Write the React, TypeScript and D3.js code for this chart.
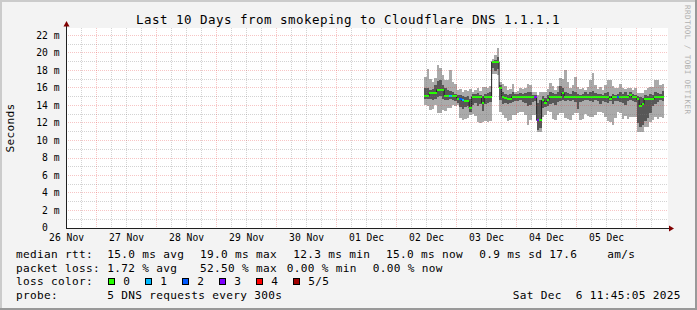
import React from "react";
import * as d3 from "d3";

// ---------- data ----------
const graphStart = Date.UTC(2025, 10, 26, 11, 45, 5);
const graphEnd = Date.UTC(2025, 11, 6, 11, 45, 5);
const dataStart = Date.UTC(2025, 11, 2, 11, 0, 0);
const stepMs = 3600 * 1000;

const yTickValues = [0, 2, 4, 6, 8, 10, 12, 14, 16, 18, 20, 22];
const yTickLabels = ["0  ", "2 m", "4 m", "6 m", "8 m", "10 m", "12 m", "14 m", "16 m", "18 m", "20 m", "22 m"];
const dayLabels = ["26 Nov", "27 Nov", "28 Nov", "29 Nov", "30 Nov", "01 Dec", "02 Dec", "03 Dec", "04 Dec", "05 Dec"];

// hourly smoke values (ms): min, 2nd, median, 4th, max of the sorted pings
const pingMin = [
  14.1, 14.0, 13.5, 13.6, 14.1, 13.1, 13.1, 13.5, 13.4, 13.7, 13.7, 14.1, 14.0, 14.1, 12.6, 12.4,
  12.5, 12.6, 12.9, 13.0, 12.8, 12.1, 12.0, 12.1, 12.2, 12.1, 12.2, 17.6, 17.6, 17.5, 13.3, 12.9,
  12.6, 12.2, 12.3, 12.9, 12.9, 13.1, 13.3, 13.3, 12.9, 11.8, 12.3, 12.9, 12.9, 11.0, 11.0, 12.7,
  12.9, 13.4, 13.3, 12.5, 12.4, 12.9, 13.1, 13.2, 12.6, 12.5, 12.4, 12.9, 13.1, 13.2, 12.3, 12.5,
  13.0, 12.8, 12.7, 12.7, 12.9, 13.3, 13.3, 13.2, 12.7, 12.2, 12.1, 11.8, 12.6, 13.3, 13.1, 12.5,
  12.8, 12.5, 12.7, 12.7, 12.7, 11.0, 11.0, 11.0, 11.6, 11.6, 12.1, 12.3, 12.7, 12.5, 12.7, 12.6,
];
const pingLow = [
  14.8, 14.8, 14.7, 14.6, 14.8, 15.0, 15.1, 14.7, 14.6, 14.6, 14.7, 14.6, 14.5, 14.3, 13.8, 13.6,
  13.8, 13.9, 13.3, 14.1, 14.3, 13.9, 14.2, 13.4, 14.2, 14.3, 14.4, 18.3, 18.0, 18.2, 14.6, 14.2,
  14.3, 14.2, 14.3, 14.4, 14.5, 14.5, 14.6, 14.4, 14.3, 14.0, 14.1, 14.4, 14.5, 11.2, 11.4, 13.7,
  13.8, 14.0, 14.2, 14.3, 14.1, 14.4, 14.5, 14.6, 14.5, 14.6, 14.5, 14.6, 14.4, 13.6, 14.4, 14.5,
  14.6, 14.6, 14.5, 14.4, 14.6, 14.5, 14.2, 14.5, 14.4, 14.3, 14.5, 14.2, 14.5, 14.5, 14.4, 14.3,
  14.1, 14.5, 14.6, 14.5, 14.4, 12.0, 11.6, 11.8, 12.2, 12.6, 13.2, 13.9, 14.2, 14.4, 14.6, 14.5,
];
const median = [
  15.1, 15.1, 15.4, 15.4, 15.4, 15.8, 15.8, 15.8, 15.1, 15.1, 15.1, 15.1, 15.1, 14.8, 14.7, 14.6,
  14.5, 14.5, 13.7, 15.0, 15.0, 15.0, 15.0, 14.3, 15.0, 15.0, 15.0, 19.0, 19.0, 19.0, 16.0, 15.0,
  14.9, 14.8, 14.8, 15.0, 15.0, 15.0, 15.0, 15.0, 15.0, 15.0, 15.0, 15.0, 15.0, 12.3, 12.3, 14.6,
  14.3, 14.6, 15.0, 15.0, 15.0, 15.0, 15.0, 15.4, 15.0, 15.0, 15.0, 15.0, 15.0, 15.0, 15.0, 15.0,
  15.0, 15.0, 15.0, 15.0, 15.0, 15.0, 15.0, 15.0, 15.0, 15.0, 14.7, 15.0, 15.0, 15.0, 15.0, 15.0,
  15.0, 15.0, 15.2, 15.0, 15.0, 14.7, 14.0, 14.2, 14.8, 14.8, 14.7, 14.7, 15.0, 15.0, 15.0, 15.0,
];
const pingHigh = [
  16.0, 16.0, 15.8, 15.9, 16.3, 16.8, 16.9, 16.3, 16.0, 15.8, 15.7, 15.5, 15.3, 15.2, 15.2, 15.1,
  15.0, 15.1, 14.8, 15.3, 15.3, 15.4, 15.2, 15.1, 15.3, 15.4, 15.5, 19.1, 19.2, 19.5, 16.4, 15.6,
  15.3, 15.2, 15.3, 15.6, 15.3, 15.3, 15.4, 15.3, 15.4, 15.6, 15.5, 15.2, 15.2, 14.3, 14.6, 15.1,
  14.9, 15.2, 15.6, 15.4, 15.3, 15.6, 16.2, 16.0, 15.6, 15.4, 15.3, 15.7, 15.5, 15.3, 15.2, 15.3,
  15.5, 15.3, 15.6, 15.7, 15.4, 15.3, 15.3, 15.2, 15.4, 15.5, 15.1, 15.3, 15.2, 15.3, 15.5, 15.3,
  15.6, 15.2, 15.6, 15.3, 15.2, 15.1, 15.0, 14.9, 15.2, 15.1, 15.3, 15.2, 15.6, 15.4, 15.3, 15.7,
];
const pingMax = [
  17.3, 18.2, 17.0, 16.7, 17.1, 18.6, 18.3, 17.5, 16.9, 16.9, 18.1, 16.7, 16.5, 15.8, 15.9, 15.6,
  15.8, 15.7, 15.9, 15.6, 15.8, 16.0, 15.7, 16.1, 16.1, 16.0, 16.2, 19.3, 19.8, 20.6, 16.7, 16.5,
  16.2, 15.8, 15.9, 16.5, 15.6, 15.7, 16.0, 15.9, 16.0, 16.5, 16.4, 15.6, 15.6, 15.2, 15.5, 15.6,
  15.6, 15.9, 16.6, 16.2, 15.8, 16.2, 17.1, 17.0, 18.1, 16.7, 16.0, 16.3, 17.3, 16.1, 15.9, 16.0,
  15.8, 16.1, 16.9, 17.7, 16.3, 15.9, 16.1, 15.8, 16.4, 16.9, 16.9, 16.2, 16.0, 16.0, 16.5, 16.0,
  15.9, 16.0, 16.0, 15.8, 16.0, 15.4, 15.4, 15.4, 15.8, 16.0, 16.1, 16.1, 16.9, 16.9, 16.4, 16.5,
];
// hourly packet loss (%)
const lossPct = [
  0, 0, 0, 0, 0, 0, 0, 0, 0, 0, 20, 0, 0, 0, 40, 20,
  0, 0, 0, 0, 0, 0, 0, 0, 0, 0, 0, 0, 0, 0, 0, 0,
  0, 0, 0, 0, 0, 0, 0, 0, 0, 0, 0, 0, 52.5, 52.5, 0, 0,
  0, 0, 0, 0, 0, 0, 0, 0, 0, 0, 0, 0, 0, 0, 0, 0,
  0, 0, 0, 0, 0, 0, 0, 0, 0, 0, 0, 0, 0, 40, 0, 0,
  0, 0, 0, 0, 0, 0, 0, 0, 0, 0, 0, 0, 0, 0, 0, 0,
];

const lossColors = ["#26ff00", "#00b8ff", "#0059ff", "#7e00ff", "#ff0000", "#a10000"];
const lossLabels = ["0", "1", "2", "3", "4", "5/5"];

const titleText = "Last 10 Days from smokeping to Cloudflare DNS 1.1.1.1";
const rttStats = ["median rtt:", "15.0 ms avg", "19.0 ms max", "12.3 ms min", "15.0 ms now", "0.9 ms sd", "17.6", "am/s"];
const lossStats = ["packet loss:", "1.72 % avg", "52.50 % max", "0.00 % min", "0.00 % now"];
const probeTexts = ["probe:", "5 DNS requests every 300s", "Sat Dec  6 11:45:05 2025"];

// ---------- layout ----------
const W = 697;
const H = 310;
const X0 = 66;
const X1 = 666;
const Y0 = 228;
const Y1 = 28;
const PX_PER_MS = 8.75;
const rttX = [16, 107.3, 200, 293.3, 386, 479.3, 549.3, 607.3];
const lossX = [16, 107.3, 200, 286.7, 372.7];
const probeX = [16, 107.3, 512.7];
const MONO = "'DejaVu Sans Mono', monospace";

export default function App() {
  const x = d3.scaleUtc().domain([new Date(graphStart), new Date(graphEnd)]).range([X0, X1]);
  const y = d3.scaleLinear().domain([0, (Y0 - Y1) / PX_PER_MS]).range([Y0, Y1]);

  const pts = median.map((m, i) => ({
    t: new Date(dataStart + i * stepMs),
    lo: pingMin[i],
    q1: pingLow[i],
    med: m,
    q3: pingHigh[i],
    hi: pingMax[i],
    loss: lossPct[i],
  }));
  const ext = [...pts, { ...pts[pts.length - 1], t: new Date(dataStart + pts.length * stepMs) }];

  const outer = d3
    .area<any>()
    .x((d) => x(d.t))
    .y0((d) => y(d.lo))
    .y1((d) => y(d.hi))
    .curve(d3.curveStepAfter)(ext);
  const inner = d3
    .area<any>()
    .x((d) => x(d.t))
    .y0((d) => y(d.q1))
    .y1((d) => y(d.q3))
    .curve(d3.curveStepAfter)(ext);
  const medLine = d3
    .line<any>()
    .x((d) => x(d.t))
    .y((d) => y(d.med))
    .curve(d3.curveStepAfter)(ext);

  const lossBucket = (l: number) => (l <= 0 ? 0 : Math.min(5, Math.ceil(l / 20 - 1e-9)));

  const snapY = (v: number) => Math.ceil(y(v)) - 0.5;
  const snapX = (d: Date) => Math.floor(x(d)) + 0.5;

  const minorH = d3.range(1, 23).filter((v) => v % 2 !== 0);
  const majorH = yTickValues.filter((v) => v > 0);
  const minorV = d3.utcHour
    .every(6)!
    .range(new Date(graphStart), new Date(graphEnd))
    .filter((d) => d.getUTCHours() !== 0);
  const majorV = d3.utcDay.range(new Date(graphStart), new Date(graphEnd));
  const labelDays = d3.utcDay
    .range(d3.utcDay.floor(new Date(graphStart)), new Date(graphEnd))
    .map((d) => new Date(d.getTime() + 12 * stepMs))
    .filter((d) => d.getTime() >= graphStart - stepMs && d.getTime() <= graphEnd);

  const minorColor = "rgba(120,120,120,0.33)";
  const majorColor = "rgba(225,45,45,0.28)";
  const legFont = { fontFamily: MONO, fontSize: 11.1, letterSpacing: 0.32 } as const;

  return (
    <svg
      width={W}
      height={H}
      viewBox={`0 0 ${W} ${H}`}
      style={{ position: "absolute", left: 0, top: 0, display: "block" }}
      xmlns="http://www.w3.org/2000/svg"
    >
      {/* background + frame */}
      <rect x={0} y={0} width={W} height={H} fill="#f3f3f3" />
      <rect x={0} y={0} width={W} height={2} fill="#cbcbcb" />
      <rect x={0} y={0} width={2} height={H} fill="#cbcbcb" />
      <rect x={0} y={H - 2} width={W} height={2} fill="#999999" />
      <rect x={W - 2} y={0} width={2} height={H} fill="#999999" />

      {/* canvas */}
      <rect x={X0} y={Y1} width={X1 - X0 + 2} height={Y0 - Y1} fill="#ffffff" />

      {/* smoke */}
      <path d={outer || ""} fill="#aaaaaa" shapeRendering="crispEdges" />
      <path d={inner || ""} fill="#575757" shapeRendering="crispEdges" />
      <path d={medLine || ""} fill="none" stroke="#202020" strokeWidth={1} />
      {pts.map((p, i) => {
        const xa = x(p.t);
        const xb = x(new Date(p.t.getTime() + stepMs));
        return (
          <rect
            key={i}
            x={xa}
            width={xb - xa}
            y={y(p.med) - 1}
            height={2}
            fill={lossColors[lossBucket(p.loss)]}
            shapeRendering="crispEdges"
          />
        );
      })}

      {/* grid */}
      <g strokeWidth={1} strokeDasharray="1,1" fill="none" shapeRendering="crispEdges">
        {minorH.map((v) => (
          <line key={"mh" + v} x1={X0} x2={X1 + 2} y1={snapY(v)} y2={snapY(v)} stroke={minorColor} />
        ))}
        {minorV.map((d) => (
          <line key={"mv" + d.getTime()} x1={snapX(d)} x2={snapX(d)} y1={Y1} y2={Y0} stroke={minorColor} />
        ))}
        {majorH.map((v) => (
          <line key={"Mh" + v} x1={X0} x2={X1 + 2} y1={snapY(v)} y2={snapY(v)} stroke={majorColor} />
        ))}
        {majorV.map((d) => (
          <line key={"Mv" + d.getTime()} x1={snapX(d)} x2={snapX(d)} y1={Y1} y2={Y0} stroke={majorColor} />
        ))}
      </g>

      {/* axes */}
      <line x1={X0 + 0.5} x2={X0 + 0.5} y1={Y0 + 0.5} y2={Y1 - 2} stroke="#202020" strokeWidth={1} />
      <line x1={X0} x2={X1 + 3} y1={Y0 + 0.5} y2={Y0 + 0.5} stroke="#202020" strokeWidth={1} />
      <polygon points={`${X0 - 2.5},${Y1 - 1.5} ${X0 + 0.5},${Y1 - 7} ${X0 + 3.5},${Y1 - 1.5}`} fill="#800000" />
      <polygon points={`${X1 + 3},${Y0 - 2.5} ${X1 + 8},${Y0 + 0.5} ${X1 + 3},${Y0 + 3.5}`} fill="#800000" />

      {/* y labels */}
      <g fontFamily={MONO} fontSize={9.7} fill="#000" textAnchor="end">
        {yTickValues.map((v, i) => (
          <text key={v} x={59.5} y={y(v) + 3} xmlSpace="preserve" style={{ whiteSpace: "pre" }}>
            {yTickLabels[i]}
          </text>
        ))}
      </g>
      {/* x labels */}
      <g fontFamily={MONO} fontSize={9.7} fill="#000" textAnchor="middle">
        {labelDays.map((d, i) => (
          <text key={i} x={x(d)} y={240.5}>
            {dayLabels[i]}
          </text>
        ))}
      </g>

      {/* title */}
      <text x={348} y={23.5} textAnchor="middle" fontFamily={MONO} fontSize={12.5} letterSpacing={0.47} fill="#000">
        {titleText}
      </text>
      {/* y axis title */}
      <text
        transform={`translate(14,${(Y0 + Y1) / 2}) rotate(-90)`}
        textAnchor="middle"
        fontFamily={MONO}
        fontSize={11.1}
        letterSpacing={0.32}
        fill="#000"
      >
        Seconds
      </text>
      {/* watermark */}
      <text transform="translate(685,5) rotate(90)" fontFamily={MONO} fontSize={7.6} letterSpacing={0.4} fill="#b0b0b0">
        RRDTOOL / TOBI OETIKER
      </text>

      {/* legend */}
      <g fill="#000" style={legFont as any}>
        {rttStats.map((s, i) => (
          <text key={"r" + i} x={rttX[i]} y={257.7}>
            {s}
          </text>
        ))}
        {lossStats.map((s, i) => (
          <text key={"l" + i} x={lossX[i]} y={271.7}>
            {s}
          </text>
        ))}
        <text x={16} y={285.3}>
          loss color:
        </text>
        {lossLabels.map((lab, k) => {
          const sx = Math.round(108 + 37.06 * k);
          return (
            <g key={"s" + k}>
              <rect x={sx + 0.5} y={278.5} width={6} height={6} fill={lossColors[k]} stroke="#000" strokeWidth={1} />
              <text x={sx + 15.3} y={285.3}>
                {lab}
              </text>
            </g>
          );
        })}
        {probeTexts.map((s, i) => (
          <text key={"p" + i} x={probeX[i]} y={299.3} xmlSpace="preserve" style={{ whiteSpace: "pre" }}>
            {s}
          </text>
        ))}
      </g>
    </svg>
  );
}
